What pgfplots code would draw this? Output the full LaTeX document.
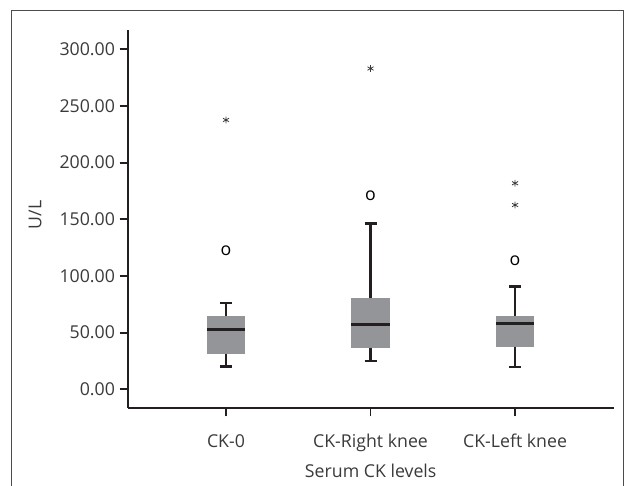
\documentclass[border=0pt]{standalone}
\usepackage{pgfplots}
\pgfplotsset{compat=1.18}
\usepackage{fontspec}
\setmainfont{Open Sans}
\definecolor{txt}{HTML}{3A3A3A}
\definecolor{boxgray}{HTML}{939598}
\definecolor{ink}{HTML}{231F20}
\begin{document}
\begin{tikzpicture}
\useasboundingbox (0pt,0pt) rectangle (475.5pt,363.75pt);
\draw[line width=0.75pt, color=black!70] (8.775pt,-1.5pt) -- (8.775pt,355.5pt) -- (467.25pt,355.5pt) -- (467.25pt,-1.5pt);
\begin{axis}[
  at={(96.225pt,57.975pt)}, anchor=south west,
  scale only axis, width=364.3pt, height=283.3pt,
  xmin=0.324, xmax=3.685, ymin=-16.2, ymax=317,
  axis x line=bottom, axis y line=left,
  axis line style={line width=1.4pt, color=ink, -},
  every tick/.style={line width=1.4pt, color=ink},
  tick align=outside, major tick length=6.5pt,
  xtick={1,2,3}, xticklabels={CK-0, CK-Right knee, CK-Left knee},
  ytick={0,50,100,150,200,250,300},
  yticklabel style={/pgf/number format/.cd, fixed, fixed zerofill, precision=2},
  /pgf/number format/assume math mode=true,
  tick label style={font=\fontsize{13.3}{15}\selectfont, color=txt},
  label style={font=\fontsize{13.3}{15}\selectfont, color=txt},
  xticklabel style={yshift=-10pt},
  xlabel={Serum CK levels},
  xlabel style={at={(axis description cs:0.499,-0.168)}, anchor=center},
  ylabel={U/L},
  ylabel style={at={(axis description cs:-0.192,0.51)}, anchor=center},
  clip=false,
]
% boxes (lower quartile to upper quartile)
\addplot[fill=boxgray, draw=none] coordinates {(0.8675,31) (1.1325,31) (1.1325,64.3) (0.8675,64.3)} -- cycle;
\addplot[fill=boxgray, draw=none] coordinates {(1.8675,36.5) (2.1325,36.5) (2.1325,80.4) (1.8675,80.4)} -- cycle;
\addplot[fill=boxgray, draw=none] coordinates {(2.8675,37.4) (3.1325,37.4) (3.1325,64.9) (2.8675,64.9)} -- cycle;
% medians
\addplot[ink, line width=1.9pt] coordinates {(0.8675,52.9) (1.1325,52.9)};
\addplot[ink, line width=1.9pt] coordinates {(1.8675,57) (2.1325,57)};
\addplot[ink, line width=1.9pt] coordinates {(2.8675,58.2) (3.1325,58.2)};
% whiskers
\addplot[ink, line width=1.6pt] coordinates {(1,64.3) (1,76)};
\addplot[ink, line width=1.6pt] coordinates {(1,31) (1,20.2)};
\addplot[ink, line width=1.6pt] coordinates {(2,80.4) (2,146.2)};
\addplot[ink, line width=1.6pt] coordinates {(2,36.5) (2,24.9)};
\addplot[ink, line width=1.6pt] coordinates {(3,64.9) (3,90.6)};
\addplot[ink, line width=1.6pt] coordinates {(3,37.4) (3,19.9)};
% whisker caps
\addplot[ink, line width=1.8pt] coordinates {(0.9585,76) (1.0415,76)};
\addplot[ink, line width=1.8pt] coordinates {(0.9585,20.2) (1.0415,20.2)};
\addplot[ink, line width=1.8pt] coordinates {(1.9585,146.2) (2.0415,146.2)};
\addplot[ink, line width=1.8pt] coordinates {(1.9585,24.9) (2.0415,24.9)};
\addplot[ink, line width=1.8pt] coordinates {(2.9585,90.6) (3.0415,90.6)};
\addplot[ink, line width=1.8pt] coordinates {(2.9585,19.9) (3.0415,19.9)};
% outliers (circles)
\addplot[only marks, mark=text, text mark={\fontsize{13.3}{15}\selectfont o}, color=txt] coordinates {(1,122.4) (2,170.6) (3,113.2)};
% extreme values (stars)
\addplot[only marks, mark=asterisk, mark size=2.6pt, color=txt, mark options={line width=0.6pt}] coordinates {(1,237.6) (2,283) (3,181.8) (3,162.6)};
\end{axis}
\end{tikzpicture}
\end{document}
